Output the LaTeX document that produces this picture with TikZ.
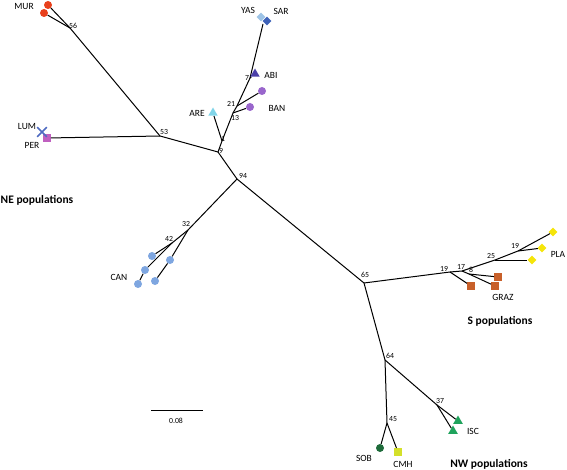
\documentclass[tikz,border=0pt]{standalone}
\usepackage{fontspec}
\setmainfont{Carlito}
\usetikzlibrary{shapes.geometric,shapes.misc}

\definecolor{murred}{HTML}{E8401C}
\definecolor{lumblue}{HTML}{4F6BC1}
\definecolor{perpink}{HTML}{C060C0}
\definecolor{yasblue}{HTML}{9DC3E6}
\definecolor{sarblue}{HTML}{3E62B8}
\definecolor{abiblue}{HTML}{4B3FA8}
\definecolor{banpurple}{HTML}{9966CC}
\definecolor{arecyan}{HTML}{80D4E8}
\definecolor{canblue}{HTML}{7EA6E0}
\definecolor{grazbrown}{HTML}{C8602A}
\definecolor{playellow}{HTML}{F5E50A}
\definecolor{iscgreen}{HTML}{1FA35C}
\definecolor{sobgreen}{HTML}{1E6B3A}
\definecolor{cmhyellow}{HTML}{D4E02A}

\tikzset{
  branch/.style={line width=1pt},
  dotmark/.style={circle, fill=#1, inner sep=0pt, minimum size=8pt},
  sqmark/.style={rectangle, fill=#1, inner sep=0pt, minimum size=7.5pt},
  trimark/.style={regular polygon, regular polygon sides=3, fill=#1, inner sep=0pt, minimum size=11pt},
  dimark/.style={diamond, fill=#1, inner sep=0pt, minimum size=9pt},
  xmark/.style={cross out, draw=#1, line width=1.6pt, inner sep=0pt, minimum size=8pt},
  popname/.style={font=\fontsize{9.5}{11}\selectfont, inner sep=0pt},
  boot/.style={font=\fontsize{7.8}{9}\selectfont, inner sep=0pt},
  group/.style={font=\fontsize{11.5}{13}\selectfont\bfseries, inner sep=0pt}
}

\begin{document}
\begin{tikzpicture}[x=1pt, y=-1pt]

  \useasboundingbox (0,0) rectangle (567,470);

  %% Unrooted tree

  % Inner nodes
  \coordinate (n56) at (70,28);
  \coordinate (n53) at (160,136);
  \coordinate (n9) at (218,152);
  \coordinate (n1) at (222,141);
  \coordinate (n13) at (233,113);
  \coordinate (n21) at (237,106);
  \coordinate (n7) at (250,78);
  \coordinate (nys) at (263,24);
  \coordinate (n94) at (237,179);
  \coordinate (n32) at (188,230);
  \coordinate (n42) at (172,243);
  \coordinate (n65) at (364,283);
  \coordinate (n19) at (450,272);
  \coordinate (n17) at (462,271);
  \coordinate (n8) at (469,274);
  \coordinate (n25) at (495,260);
  \coordinate (n19b) at (518,251);
  \coordinate (n64) at (385,360);
  \coordinate (n37) at (437,405);
  \coordinate (n45) at (387,423);

  % Backbone
  \draw[branch] (n56) -- (n53) -- (n9) -- (n94) -- (n65) -- (n64) -- (n45);
  \draw[branch] (n9) -- (n1) -- (n13) -- (n21) -- (n7) -- (nys);
  \draw[branch] (n94) -- (n32) -- (n42);
  \draw[branch] (n65) -- (n19) -- (n17) -- (n25) -- (n19b);
  \draw[branch] (n17) -- (n8);
  \draw[branch] (n64) -- (n37);

  % MUR
  \node[dotmark=murred] (mur1) at (48,5) {};
  \node[dotmark=murred] (mur2) at (44,13) {};
  \draw[branch] (n56) -- (mur1);
  \draw[branch] (n56) -- (mur2);
  \node[popname] (lblmur) at (24,6) {MUR};

  % LUM and PER
  \node[sqmark=perpink] (per) at (47,138) {};
  \node[xmark=lumblue] (lum) at (42,132) {};
  \draw[branch] (n53) -- (per);
  \node[popname] (lbllum) at (27,126) {LUM};
  \node[popname] (lblper) at (32,145) {PER};

  % ARE
  \node[trimark=arecyan] (are) at (213,113) {};
  \draw[branch] (n1) -- (are);
  \node[popname] (lblare) at (197,113) {ARE};

  % BAN
  \node[dotmark=banpurple] (ban1) at (250,107) {};
  \node[dotmark=banpurple] (ban2) at (262,91) {};
  \draw[branch] (n13) -- (ban1);
  \draw[branch] (n21) -- (ban2);
  \node[popname] (lblban) at (277,108) {BAN};

  % ABI
  \node[trimark=abiblue] (abi) at (255,74) {};
  \draw[branch] (n7) -- (abi);
  \node[popname] (lblabi) at (271,75) {ABI};

  % YAS and SAR
  \node[dimark=sarblue] (sar) at (267,21) {};
  \node[dimark=yasblue] (yas) at (261,17) {};
  \node[popname] (lblyas) at (248,10) {YAS};
  \node[popname] (lblsar) at (281,11) {SAR};

  % CAN
  \node[dotmark=canblue] (can1) at (152,256) {};
  \node[dotmark=canblue] (can2) at (145,270) {};
  \node[dotmark=canblue] (can3) at (138,284) {};
  \node[dotmark=canblue] (can4) at (170,260) {};
  \node[dotmark=canblue] (can5) at (155,281) {};
  \draw[branch] (n42) -- (can1);
  \draw[branch] (n42) -- (can2) -- (can3);
  \draw[branch] (n32) -- (can4) -- (can5);
  \node[popname] (lblcan) at (119,277) {CAN};

  % GRAZ
  \node[sqmark=grazbrown] (graz1) at (498,277) {};
  \node[sqmark=grazbrown] (graz2) at (495,286) {};
  \node[sqmark=grazbrown] (graz3) at (471,286) {};
  \draw[branch] (n8) -- (graz1);
  \draw[branch] (n8) -- (graz2);
  \draw[branch] (n19) -- (graz3);
  \node[popname] (lblgraz) at (503,297) {GRAZ};

  % PLA
  \node[dimark=playellow] (pla1) at (553,232) {};
  \node[dimark=playellow] (pla2) at (542,248) {};
  \node[dimark=playellow] (pla3) at (532,260) {};
  \draw[branch] (n19b) -- (pla1);
  \draw[branch] (n19b) -- (pla2);
  \draw[branch] (n25) -- (pla3);
  \node[popname] (lblpla) at (558,254) {PLA};

  % ISC
  \node[trimark=iscgreen] (isc1) at (458,421) {};
  \node[trimark=iscgreen] (isc2) at (453,431) {};
  \draw[branch] (n37) -- (isc1);
  \draw[branch] (n37) -- (isc2);
  \node[popname] (lblisc) at (473,431) {ISC};

  % SOB and CMH
  \node[dotmark=sobgreen] (sob) at (380,448) {};
  \node[sqmark=cmhyellow] (cmh) at (398,452) {};
  \draw[branch] (n45) -- (sob);
  \draw[branch] (n45) -- (cmh);
  \node[popname] (lblsob) at (364,458) {SOB};
  \node[popname] (lblcmh) at (403,464) {CMH};

  % Bootstrap values
  \node[boot] at (73,26) {56};
  \node[boot] at (164,132) {53};
  \node[boot] at (221,151) {9};
  \node[boot] at (223,139) {1};
  \node[boot] at (235,118) {13};
  \node[boot] at (231,104) {21};
  \node[boot] at (247,78) {7};
  \node[boot] at (243,176) {94};
  \node[boot] at (186,224) {32};
  \node[boot] at (169,239) {42};
  \node[boot] at (365,275) {65};
  \node[boot] at (444,269) {19};
  \node[boot] at (461,267) {17};
  \node[boot] at (471,270) {8};
  \node[boot] at (491,256) {25};
  \node[boot] at (515,246) {19};
  \node[boot] at (390,356) {64};
  \node[boot] at (440,401) {37};
  \node[boot] at (393,419) {45};

  % Groups
  \node[group] (grpne) at (37,200) {NE populations};
  \node[group] (grps) at (500,321) {S populations};
  \node[group] (grpnw) at (489,464) {NW populations};

  % Scale bar
  \coordinate (barl) at (151,410);
  \coordinate (barr) at (203,410);
  \draw[line width=0.8pt] (barl) -- (barr);
  \node[boot] (lblbar) at (176,421) {0.08};

\end{tikzpicture}
\end{document}
